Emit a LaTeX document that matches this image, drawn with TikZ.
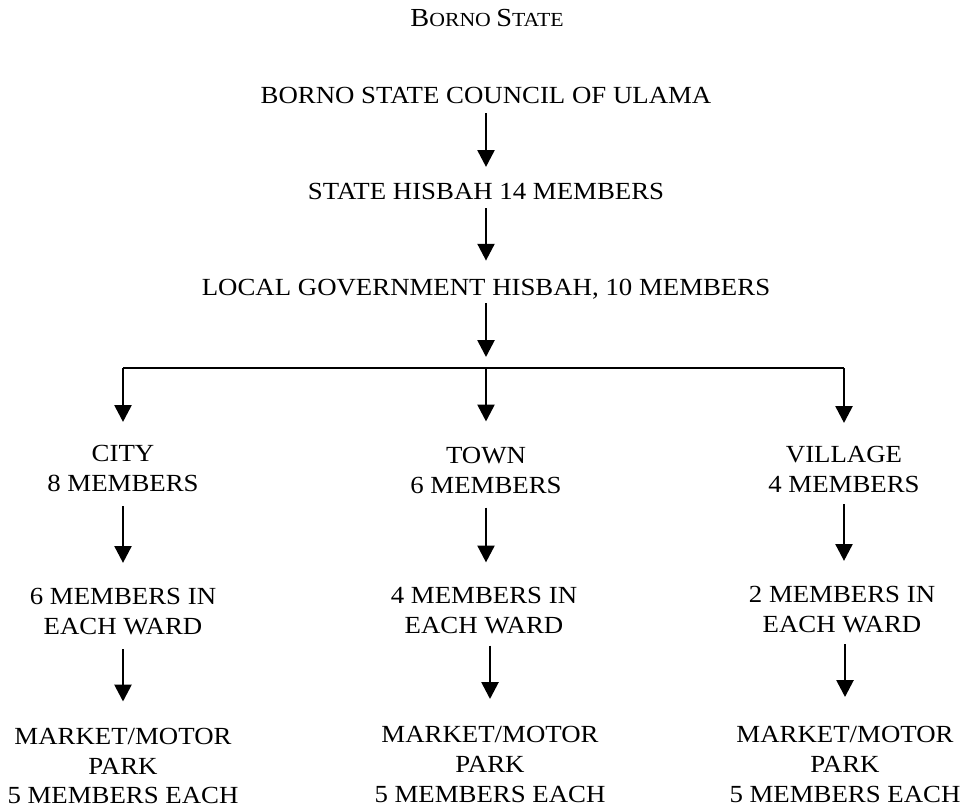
\documentclass[tikz,border=0pt]{standalone}
\usepackage{fontspec}
\setmainfont{Liberation Serif}[FakeStretch=1.09]
\usetikzlibrary{arrows.meta}

\tikzset{
  lbl/.style={inner sep=0pt, align=center, font=\fontsize{17.5}{21.3}\selectfont},
  ttl/.style={inner sep=0pt, font=\fontsize{14.2}{16}\selectfont},
  arr/.style={line width=1.9pt, -{Triangle[width=4.2mm,length=4.2mm]}},
  bar/.style={line width=1.9pt}
}

\begin{document}
\begin{tikzpicture}

\useasboundingbox (0,0) rectangle (24,20.225);

%labels
\node[ttl] (title)   at (12.175,19.7625) {{\fontsize{18.5}{20}\selectfont B}ORNO {\fontsize{18.5}{20}\selectfont S}TATE};
\node[lbl] (council) at (12.15,17.8375)  {BORNO STATE COUNCIL OF ULAMA};
\node[lbl] (state)   at (12.15,15.4375)  {STATE HISBAH 14 MEMBERS};
\node[lbl] (local)   at (12.15,13.0)     {LOCAL GOVERNMENT HISBAH, 10 MEMBERS};
%
\coordinate (split) at (12.15,11.025);
%
\node[lbl] (city)    at (3.075,8.5125)   {CITY\\8 MEMBERS};
\node[lbl] (town)    at (12.15,8.475)    {TOWN\\6 MEMBERS};
\node[lbl] (village) at (21.1,8.4875)    {VILLAGE\\4 MEMBERS};
%
\node[lbl] (wardA)   at (3.075,4.9375)   {6 MEMBERS IN\\EACH WARD};
\node[lbl] (wardB)   at (12.1,4.95)      {4 MEMBERS IN\\EACH WARD};
\node[lbl] (wardC)   at (21.05,4.9875)   {2 MEMBERS IN\\EACH WARD};
%
\node[lbl] (marketA) at (3.075,1.075)    {MARKET/MOTOR\\PARK\\5 MEMBERS EACH};
\node[lbl] (marketB) at (12.25,1.1125)   {MARKET/MOTOR\\PARK\\5 MEMBERS EACH};
\node[lbl] (marketC) at (21.125,1.1125)  {MARKET/MOTOR\\PARK\\5 MEMBERS EACH};

%arrows down the middle
\draw[arr, shorten <=0.225cm, shorten >=0.4cm]  (council) -- (state);
\draw[arr, shorten <=0.2cm,   shorten >=0.45cm] (state)   -- (local);
\draw[arr, shorten <=0.1cm,   shorten >=0.275cm] (local)  -- (split);

%branches
\draw[bar] (split -| city) -- (split -| village);
\draw[arr, shorten >=0.575cm] (split -| city)    -- (city);
\draw[arr, shorten >=0.625cm] (split)            -- (town);
\draw[arr, shorten >=0.575cm] (split -| village) -- (village);

%city, town, village to wards
\draw[arr, shorten <=0.35cm,  shorten >=0.625cm] (city)    -- (wardA);
\draw[arr, shorten <=0.35cm,  shorten >=0.625cm] (town)    -- (town |- wardB.north);
\draw[arr, shorten <=0.275cm, shorten >=0.625cm] (village) -- (village |- wardC.north);

%wards to markets
\draw[arr, shorten <=0.35cm,  shorten >=0.65cm]  (wardA) -- (marketA);
\draw[arr, shorten <=0.275cm, shorten >=0.675cm] (wardB.south -| marketB) -- (marketB);
\draw[arr, shorten <=0.275cm, shorten >=0.725cm] (wardC.south -| marketC) -- (marketC);

\end{tikzpicture}
\end{document}
